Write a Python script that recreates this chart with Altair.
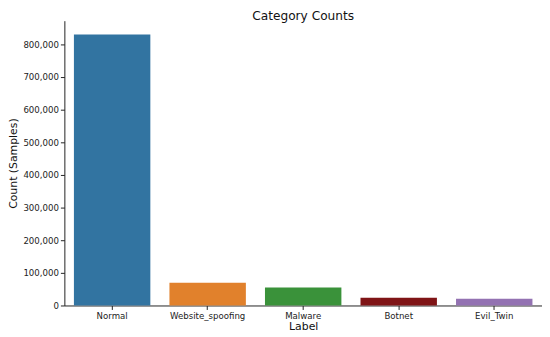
import altair as alt
import pandas as pd

labels = ["Normal", "Website_spoofing", "Malware", "Botnet", "Evil_Twin"]
counts = [830000, 70000, 55000, 24000, 21000]
colors = ["#3274a1", "#e1812c", "#3a923a", "#7f1416", "#9372b2"]

df = pd.DataFrame({"Label": labels, "Count": counts})

chart = alt.Chart(df).mark_bar().encode(
    x=alt.X("Label:N", sort=labels, title="Label",
            scale=alt.Scale(paddingInner=0.2, paddingOuter=0.1),
            axis=alt.Axis(labelAngle=0, labelFontSize=8.7, titleFontSize=11,
                          titleFontWeight="normal", labelColor="#222", titleColor="#111",
                          domainColor="#222", tickColor="#222", tickSize=4,
                          labelPadding=2, titlePadding=1)),
    y=alt.Y("Count:Q", title="Count (Samples)",
            scale=alt.Scale(domain=[0, 872000], nice=False),
            axis=alt.Axis(values=[0, 100000, 200000, 300000, 400000, 500000, 600000, 700000, 800000],
                          format=",d", grid=False, labelFontSize=8.7, titleFontSize=11,
                          titleFontWeight="normal", labelColor="#222", titleColor="#111",
                          domainColor="#222", tickColor="#222", tickSize=4,
                          labelPadding=2, titlePadding=4)),
    color=alt.Color("Label:N", scale=alt.Scale(domain=labels, range=colors), legend=None),
).properties(
    width=483, height=288,
    padding={"top": 0, "bottom": 0, "left": 0, "right": 0},
    title=alt.TitleParams("Category Counts", fontSize=12.3, fontWeight="normal",
                          color="#111", offset=-9, dy=-7),
).configure(font="DejaVu Sans").configure_view(stroke=None)

chart.save("out.html", embed_options={"renderer": "svg", "actions": False})
